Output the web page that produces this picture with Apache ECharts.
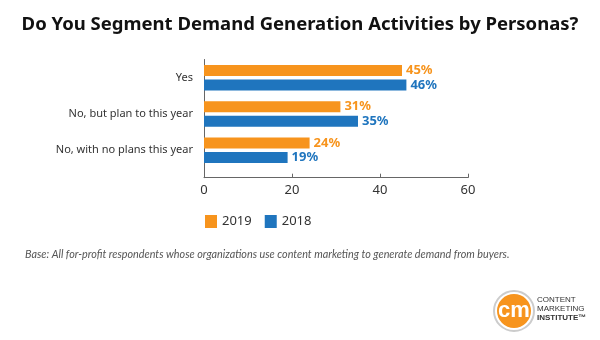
<!DOCTYPE html>
<html><head><meta charset="utf-8">
<script src="https://cdn.jsdelivr.net/npm/echarts@6/dist/echarts.min.js"></script>
<style>html,body{margin:0;padding:0;background:#fff}#c{width:600px;height:340px}</style>
</head><body><div id="c"></div>
<script>
var categories = ['Yes', 'No, but plan to this year', 'No, with no plans this year'];
var values2019 = [45, 31, 24];
var values2018 = [46, 35, 19];
var xTicks = [0, 20, 40, 60];
var seriesNames = ['2019', '2018'];
var colors = ['#F7941D', '#1F75BE'];

var chart = echarts.init(document.getElementById('c'), null, {renderer: 'canvas'});
function lbl(c) {
  return {show: true, position: 'right', distance: 4, color: c, fontFamily: 'Noto Sans', fontWeight: 'bold', fontSize: 13, formatter: '{c}%'};
}
chart.setOption({
  animation: false,
  title: {text: 'Do You Segment Demand Generation Activities by Personas?', left: 'center', top: 10,
    textStyle: {fontFamily: 'Noto Sans', fontWeight: 'bold', fontSize: 18.5, color: '#111'}},
  legend: {left: 200, top: 210, itemWidth: 12, itemHeight: 13, itemGap: 13, icon: 'rect',
    data: seriesNames, textStyle: {fontFamily: 'Noto Sans', fontSize: 13, color: '#333'}},
  grid: [
    {left: 204, right: 132, top: 59.5, bottom: 340 - 168.4},
    {left: 204, right: 132, top: 59.5, bottom: 340 - 177.7}
  ],
  xAxis: [
    {type: 'value', gridIndex: 0, min: xTicks[0], max: xTicks[xTicks.length - 1], interval: 20, offset: 9.3,
      axisLine: {show: true, lineStyle: {color: '#666', width: 1}},
      axisTick: {show: true, inside: true, length: 4, lineStyle: {color: '#666'}},
      splitLine: {show: false},
      axisLabel: {fontFamily: 'Noto Sans', fontSize: 13, color: '#333', margin: 6}},
    {type: 'value', gridIndex: 1, show: false}
  ],
  yAxis: [
    {type: 'category', gridIndex: 0, data: categories, inverse: true,
      axisLine: {show: false}, axisTick: {show: false},
      axisLabel: {fontFamily: 'Noto Sans', fontSize: 11, color: '#333', margin: 11}},
    {type: 'value', gridIndex: 1, axisLine: {show: true, lineStyle: {color: '#666'}},
      axisTick: {show: false}, axisLabel: {show: false}, splitLine: {show: false}}
  ],
  series: [
    {name: seriesNames[0], type: 'bar', data: values2019, barWidth: 11, barGap: '32%', itemStyle: {color: colors[0]}, label: lbl(colors[0])},
    {name: seriesNames[1], type: 'bar', data: values2018, barWidth: 11, barGap: '32%', itemStyle: {color: colors[1]}, label: lbl(colors[1])}
  ],
  graphic: [
    {type: 'text', left: 25, top: 249, style: {text: 'Base: All for-profit respondents whose organizations use content marketing to generate demand from buyers.',
      font: 'italic 10.8px Lato', fill: '#555'}},
    {type: 'circle', shape: {cx: 514, cy: 311, r: 20}, style: {fill: '#fff', stroke: '#ccc', lineWidth: 2}},
    {type: 'circle', shape: {cx: 514, cy: 311, r: 17}, style: {fill: '#F7941D'}},
    {type: 'text', x: 514, y: 311, style: {text: 'cm', font: 'bold 22px "Liberation Sans"', fill: '#fff', textAlign: 'center', textVerticalAlign: 'middle'}},
    {type: 'text', x: 537, y: 300, style: {text: 'CONTENT', font: '8px "Liberation Sans"', fill: '#333', textVerticalAlign: 'middle'}},
    {type: 'text', x: 537, y: 309, style: {text: 'MARKETING', font: '8px "Liberation Sans"', fill: '#333', textVerticalAlign: 'middle'}},
    {type: 'text', x: 537, y: 318, style: {text: 'INSTITUTE™', font: 'bold 8px "Liberation Sans"', fill: '#333', textVerticalAlign: 'middle'}}
  ]
});
</script></body></html>
